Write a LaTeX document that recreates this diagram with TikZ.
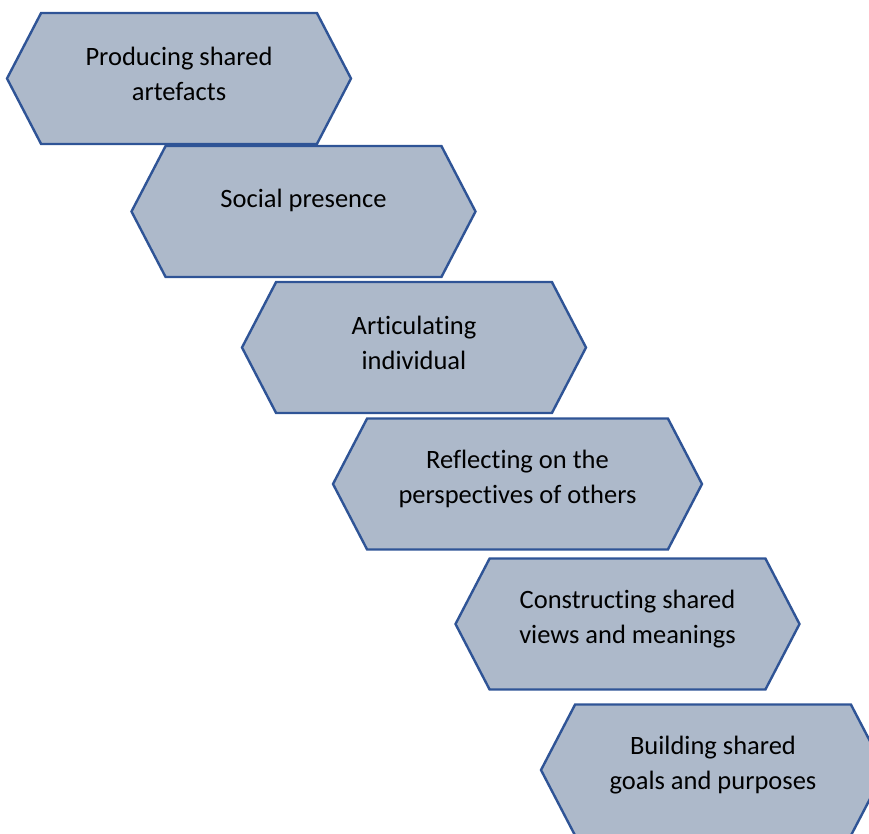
\documentclass[tikz,border=0pt]{standalone}
\usepackage{fontspec}
\setmainfont[Ligatures={NoCommon}]{Carlito}
\usetikzlibrary{shapes.symbols}
\definecolor{hexfill}{RGB}{173,185,202}
\definecolor{hexline}{RGB}{47,84,150}

\begin{document}
\begin{tikzpicture}[x=1pt,y=-1pt,
    stage/.style={signal,signal to=west and east,signal pointer angle=125,
      draw=hexline,fill=hexfill,line width=2.4pt,inner sep=0pt,
      minimum width=344pt,minimum height=131pt},
    every label/.style={align=center,font=\fontsize{26.5}{35}\selectfont}]
  \clip (0,0) rectangle (869,834);
  % the six stages, stepping down to the right
  \node [stage,label={[yshift=5pt]center:Producing shared\\artefacts}]   (produce)   at (179,78.5)  {};
  \node [stage,label={[yshift=11pt]center:Social presence}]              (social)    at (303.5,211.5) {};
  \node [stage,label={[yshift=5pt]center:Articulating\\individual}]      (articulate) at (414,347.5) {};
  \node [stage,minimum width=369pt,
         label={[yshift=5pt]center:Reflecting on the\\perspectives of others}] (reflect) at (517.5,484) {};
  \node [stage,label={[yshift=5pt]center:Constructing shared\\views and meanings}] (construct) at (627.5,624) {};
  \node [stage,label={[yshift=5pt]center:Building shared\\goals and purposes}]   (build)     at (713,770) {};
\end{tikzpicture}
\end{document}
